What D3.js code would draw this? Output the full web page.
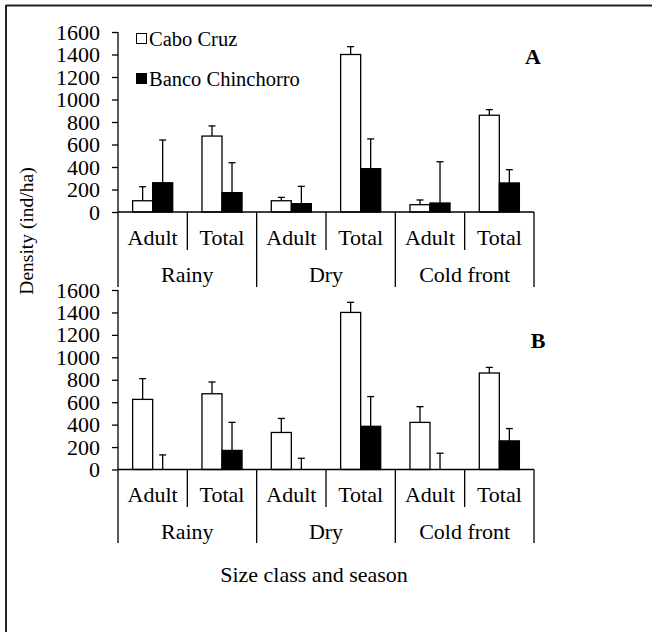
<!DOCTYPE html>
<html>
<head>
<meta charset="utf-8">
<script src="https://cdn.jsdelivr.net/npm/d3@7"></script>
<style>
  html, body { margin: 0; padding: 0; background: #fff; }
  svg { display: block; }
  text { font-family: "Liberation Serif", "Times New Roman", serif; fill: #000; }
</style>
</head>
<body>
<svg id="chart" width="652" height="632"></svg>
<script>
// ---- data ----
const sizeClasses = ["Adult", "Total", "Adult", "Total", "Adult", "Total"];
const seasons = ["Rainy", "Dry", "Cold front"];
const seriesNames = ["Cabo Cruz", "Banco Chinchorro"];
const yTicks = [0, 200, 400, 600, 800, 1000, 1200, 1400, 1600];

// Panel A
const aCaboCruz = [100, 675, 100, 1400, 65, 860];
const aCaboCruzErr = [125, 90, 30, 70, 42, 50];
const aBancoChinchorro = [260, 172, 74, 385, 80, 258];
const aBancoChinchorroErr = [380, 266, 154, 265, 367, 118];

// Panel B
const bCaboCruz = [625, 675, 330, 1400, 420, 860];
const bCaboCruzErr = [185, 105, 125, 90, 140, 50];
const bBancoChinchorro = [0, 170, 0, 385, 0, 255];
const bBancoChinchorroErr = [130, 250, 100, 265, 145, 110];

const svg = d3.select("#chart");

// frame (top & left only visible)
svg.append("line").attr("x1", 6).attr("x2", 652).attr("y1", 5.5).attr("y2", 5.5)
  .attr("stroke", "#222").attr("stroke-width", 2);
svg.append("line").attr("x1", 6).attr("x2", 6).attr("y1", 5).attr("y2", 632)
  .attr("stroke", "#222").attr("stroke-width", 2);

const catKeys = sizeClasses.map((c, i) => i);
const x0 = d3.scaleBand().domain(catKeys).range([118, 534]).padding(0);
const bw = x0.bandwidth();
const x1 = d3.scaleBand().domain(seriesNames).range([bw * 0.211, bw * 0.789]).padding(0);

function drawPanel(cfg) {
  const y = d3.scaleLinear().domain([0, 1600]).range([cfg.y0, cfg.y1]);
  const g = svg.append("g");

  // y axis
  const yAxis = d3.axisLeft(y).tickValues(yTicks).tickSize(6).tickPadding(12).tickFormat(d3.format("d"));
  const ya = g.append("g").attr("transform", "translate(118,0)").call(yAxis);
  ya.select(".domain").remove();
  ya.selectAll(".tick line").attr("stroke", "#000").attr("stroke-width", 1.3);
  ya.selectAll(".tick text").attr("font-size", 22).attr("font-family", "Liberation Serif").attr("fill", "#000");

  // vertical axis line from top down to season separator end
  g.append("line").attr("x1", 118).attr("x2", 118).attr("y1", y(1600)).attr("y2", cfg.seasonEnd)
    .attr("stroke", "#000").attr("stroke-width", 1.3);

  const series = [
    { name: seriesNames[0], vals: cfg.s1, errs: cfg.e1, fill: "#fff" },
    { name: seriesNames[1], vals: cfg.s2, errs: cfg.e2, fill: "#000" }
  ];

  // error bars
  series.forEach(s => {
    catKeys.forEach(i => {
      const cx = x0(i) + x1(s.name) + x1.bandwidth() / 2;
      const top = y(s.vals[i] + s.errs[i]);
      g.append("line").attr("x1", cx).attr("x2", cx).attr("y1", y(s.vals[i])).attr("y2", top)
        .attr("stroke", "#000").attr("stroke-width", 1.3);
      g.append("line").attr("x1", cx - 3.5).attr("x2", cx + 3.5).attr("y1", top).attr("y2", top)
        .attr("stroke", "#000").attr("stroke-width", 1.3);
    });
  });

  // bars
  series.forEach(s => {
    g.selectAll(null).data(catKeys).enter().append("rect")
      .attr("x", i => x0(i) + x1(s.name))
      .attr("y", i => y(s.vals[i]))
      .attr("width", x1.bandwidth())
      .attr("height", i => y(0) - y(s.vals[i]))
      .attr("fill", s.fill)
      .attr("stroke", "#000")
      .attr("stroke-width", 1.3);
  });

  // x axis baseline
  g.append("line").attr("x1", 118).attr("x2", 534).attr("y1", y(0)).attr("y2", y(0))
    .attr("stroke", "#000").attr("stroke-width", 1.3);

  // separators
  for (let k = 1; k <= 6; k++) {
    const xx = k < 6 ? x0(k) : x0(5) + bw;
    const isSeason = k % 2 === 0;
    g.append("line").attr("x1", xx).attr("x2", xx).attr("y1", y(0))
      .attr("y2", isSeason ? cfg.seasonEnd : cfg.innerEnd)
      .attr("stroke", "#000").attr("stroke-width", 1.3);
  }

  // size class labels
  g.selectAll(null).data(catKeys).enter().append("text")
    .attr("x", i => x0(i) + bw / 2)
    .attr("y", cfg.catBase)
    .attr("text-anchor", "middle")
    .attr("font-size", 22)
    .text(i => sizeClasses[i]);

  // season labels
  g.selectAll(null).data(seasons).enter().append("text")
    .attr("x", (d, j) => x0(2 * j) + bw)
    .attr("y", cfg.seasonBase)
    .attr("text-anchor", "middle")
    .attr("font-size", 22)
    .text(d => d);

  // panel letter
  g.append("text").attr("x", cfg.letterX).attr("y", cfg.letterY)
    .attr("text-anchor", "middle").attr("font-size", 22).attr("font-weight", "bold")
    .text(cfg.letter);
}

drawPanel({
  y0: 212, y1: 32, s1: aCaboCruz, e1: aCaboCruzErr, s2: aBancoChinchorro, e2: aBancoChinchorroErr,
  innerEnd: 250, seasonEnd: 287, catBase: 245, seasonBase: 282, letter: "A", letterX: 533, letterY: 64
});
drawPanel({
  y0: 469.5, y1: 290, s1: bCaboCruz, e1: bCaboCruzErr, s2: bBancoChinchorro, e2: bBancoChinchorroErr,
  innerEnd: 507, seasonEnd: 543, catBase: 502, seasonBase: 539, letter: "B", letterX: 538, letterY: 348
});

// legend
const legendY = [39, 79];
const legendFill = ["#fff", "#000"];
seriesNames.forEach((n, i) => {
  svg.append("rect").attr("x", 136.5).attr("y", legendY[i] - 5.5).attr("width", 10).attr("height", 10)
    .attr("fill", legendFill[i]).attr("stroke", "#000").attr("stroke-width", 1);
  svg.append("text").attr("x", 149).attr("y", legendY[i] + 6.5)
    .attr("font-size", 20.5).text(n);
});

// axis titles
svg.append("text").attr("transform", "translate(33,231) rotate(-90)")
  .attr("text-anchor", "middle").attr("font-size", 19.5).text("Density (ind/ha)");
svg.append("text").attr("x", 314).attr("y", 582)
  .attr("text-anchor", "middle").attr("font-size", 22).text("Size class and season");
</script>
</body>
</html>
